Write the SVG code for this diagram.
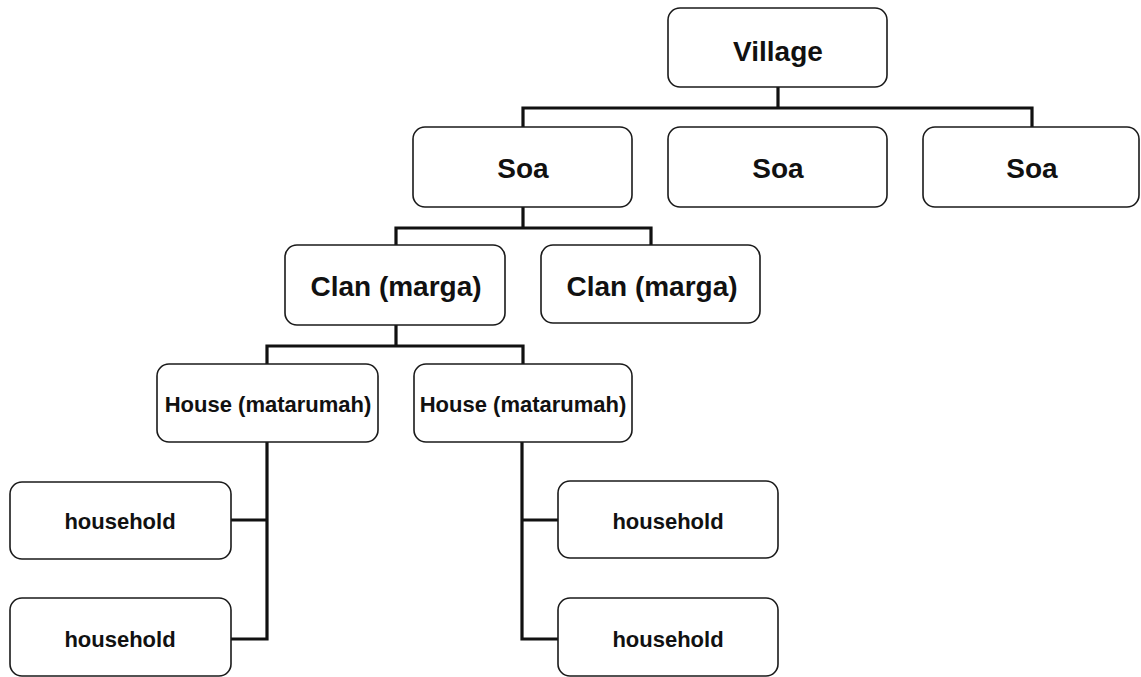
<svg xmlns="http://www.w3.org/2000/svg" width="1141" height="677" viewBox="0 0 1141 677">
<style>
.box{fill:#fff;stroke:#1a1a1a;stroke-width:1.6}
.lbl{font-family:"Liberation Sans",Arial,sans-serif;font-weight:bold;fill:#111;text-anchor:middle}
.big{font-size:28px}
.sm{font-size:22px}
.con{fill:none;stroke:#111;stroke-width:3.2;stroke-linejoin:miter}
</style>
<rect width="1141" height="677" fill="#fff"/>
<g id="connectors">
<path class="con" d="M778,87 V108 M523,127 V108 H1032 V127"/>
<path class="con" d="M523,207 V228 M396,245 V228 H651 V245"/>
<path class="con" d="M396,325 V346 M267,364 V346 H523 V364"/>
<path class="con" d="M267,442 V639 H231 M267,520 H231"/>
<path class="con" d="M522,442 V639 H558 M522,520 H558"/>
</g>
<g id="village"><rect class="box" x="668" y="8" width="219" height="79" rx="12"/><text class="lbl big" x="778" y="61">Village</text></g>
<g id="soa1"><rect class="box" x="413" y="127" width="219" height="80" rx="12"/><text class="lbl big" x="523" y="178">Soa</text></g>
<g id="soa2"><rect class="box" x="668" y="127" width="219" height="80" rx="12"/><text class="lbl big" x="778" y="178">Soa</text></g>
<g id="soa3"><rect class="box" x="923" y="127" width="216" height="80" rx="12"/><text class="lbl big" x="1032" y="178">Soa</text></g>
<g id="clan1"><rect class="box" x="285" y="245" width="220" height="80" rx="12"/><text class="lbl big" x="396" y="296">Clan (marga)</text></g>
<g id="clan2"><rect class="box" x="541" y="245" width="219" height="78" rx="12"/><text class="lbl big" x="652" y="296">Clan (marga)</text></g>
<g id="house1"><rect class="box" x="157" y="364" width="221" height="78" rx="12"/><text class="lbl sm" x="268" y="412">House (matarumah)</text></g>
<g id="house2"><rect class="box" x="414" y="364" width="218" height="78" rx="12"/><text class="lbl sm" x="523" y="412">House (matarumah)</text></g>
<g id="household1"><rect class="box" x="10" y="482" width="221" height="77" rx="12"/><text class="lbl sm" x="120" y="529">household</text></g>
<g id="household2"><rect class="box" x="10" y="598" width="221" height="78" rx="12"/><text class="lbl sm" x="120" y="647">household</text></g>
<g id="household3"><rect class="box" x="558" y="481" width="220" height="77" rx="12"/><text class="lbl sm" x="668" y="529">household</text></g>
<g id="household4"><rect class="box" x="558" y="598" width="220" height="78" rx="12"/><text class="lbl sm" x="668" y="647">household</text></g>
</svg>
